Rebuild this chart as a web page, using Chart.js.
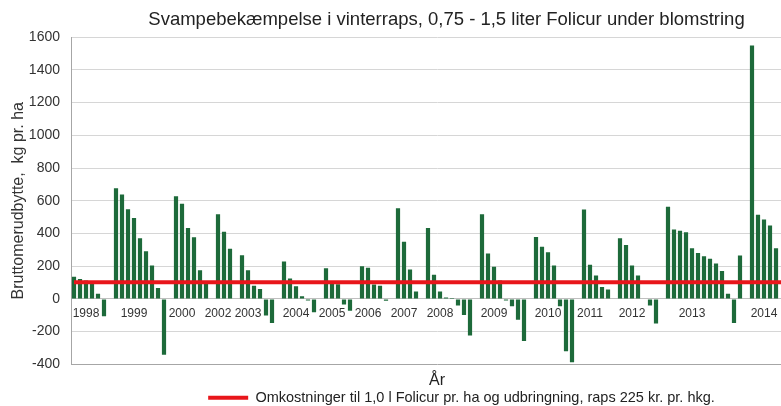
<!DOCTYPE html>
<html lang="da">
<head>
<meta charset="utf-8">
<title>Svampebekæmpelse i vinterraps</title>
<style>
  html, body { margin: 0; padding: 0; background: #fff; overflow: hidden; }
  #chart { display: block; }
</style>
</head>
<body>
<canvas id="chart" width="900" height="415"></canvas>

<script src="https://cdn.jsdelivr.net/npm/chart.js@4"></script>
<script>
// one value per trial, null = empty slot between the seasons
const merudbytte = [
  135, 122, 112, 108, 32, -106, null,
  676, 638, 548, 495, 371, 291, 204, 67, -341, null,
  628, 581, 434, 377, 175, 100, null,
  517, 410, 306, null,
  267, 175, 81, 61, -102, -147, null,
  228, 124, 77, 16, -10, -82, null,
  187, 92, 90, -35, -72, null,
  200, 190, 88, 81, -12, null,
  554, 350, 179, 45, null,
  434, 147, 45, 8, 5, -41, -98, -224, null,
  517, 277, 196, 112, -10, -45, -127, -257, null,
  379, 318, 285, 204, -45, -320, -388, null,
  546, 208, 143, 73, 57, null,
  371, 330, 204, 143, null, -41, -151, null,
  563, 424, 416, 407, 310, 281, 261, 245, 216, 171, 32, -147, 265, null,
  1549, 514, 485, 448, 310,
  null, null, null, null // rest of 2014 is outside the picture
];

const years = ["1998", "1999", "2000", "2002", "2003", "2004", "2005", "2006",
  "2007", "2008", "2009", "2010", "2011", "2012", "2013", "2014"];
// which slot each year label sits under
const yearSlot = [2, 10, 18, 24, 29, 37, 43, 49, 55, 61, 70, 79, 86, 93, 103, 115];

// cost of 1,0 l Folicur + application, in kg raps
const omkostning = 102;

const yTicks = { min: -400, max: 1600, step: 200 };

const labels = merudbytte.map(() => "");
yearSlot.forEach((slot, i) => { labels[slot] = years[i]; });

const GREEN = "#1d6a3a";
const RED = "#e8161b";
const TEXT = "#333";

// the original figure was wider than this crop, so title and legend
// sit right of the centre of what is visible
const shiftBoxes = {
  id: "shiftBoxes",
  afterLayout(chart) {
    chart.titleBlock.left += 45;
    chart.titleBlock.right += 45;
    chart.legend.left += 60;
    chart.legend.right += 60;
  },
};

const config = {
  data: {
    labels,
    datasets: [
      {
        type: "bar",
        label: "Bruttomerudbytte",
        data: merudbytte,
        backgroundColor: GREEN,
        barPercentage: 0.7,
        categoryPercentage: 1,
        order: 2,
      },
      {
        type: "line",
        label: "Omkostninger til 1,0 l Folicur pr. ha og udbringning, raps 225 kr. pr. hkg.",
        data: merudbytte.map(() => omkostning),
        borderColor: RED,
        backgroundColor: RED,
        borderWidth: 4,
        pointRadius: 0,
        pointStyle: "line",
        order: 1,
      },
    ],
  },
  options: {
    responsive: false,
    animation: false,
    layout: { padding: { left: 0, right: 97, top: 0, bottom: 0 } },
    scales: {
      x: {
        type: "category",
        position: { y: 0 },
        offset: true,
        grid: { display: false, drawTicks: false },
        border: { display: true, color: "#bfbfbf", width: 1 },
        ticks: {
          autoSkip: false,
          maxRotation: 0,
          minRotation: 0,
          padding: 8,
          color: TEXT,
          font: { family: "Liberation Sans", size: 12 },
        },
      },
      y: {
        min: yTicks.min,
        max: yTicks.max,
        ticks: {
          stepSize: yTicks.step,
          padding: 11,
          color: TEXT,
          font: { family: "Liberation Sans", size: 14 },
          callback: (v) => String(v),
        },
        grid: {
          drawTicks: false,
          color: (c) => (c.tick && c.tick.value === yTicks.min ? "#a6a6a6" : "#d6d6d6"),
        },
        border: { display: true, color: "#a6a6a6" },
        title: {
          display: true,
          text: "Bruttomerudbytte,  kg pr. ha",
          color: TEXT,
          font: { family: "Liberation Sans", size: 16 },
          padding: { top: 9, bottom: 0 },
        },
        afterFit(scale) {
          scale.width = 71;
        },
      },
    },
    plugins: {
      title: {
        display: true,
        text: "Svampebekæmpelse i vinterraps, 0,75 - 1,5 liter Folicur under blomstring",
        color: "#222",
        font: { family: "Liberation Sans", size: 18.5, weight: "normal" },
        padding: { top: 9, bottom: 6 },
      },
      subtitle: {
        display: true,
        position: "bottom",
        text: "År",
        fullSize: false,
        weight: 500,
        color: "#222",
        font: { family: "Liberation Sans", size: 16, weight: "normal" },
        padding: { top: 7, bottom: 0 },
      },
      legend: {
        position: "bottom",
        labels: {
          filter: (item) => item.datasetIndex === 1,
          usePointStyle: true,
          pointStyleWidth: 40,
          padding: 0,
          color: "#222",
          font: { family: "Liberation Sans", size: 14.5 },
        },
      },
      tooltip: { enabled: false },
    },
  },
  plugins: [shiftBoxes],
};

const chart = new Chart(document.getElementById("chart"), config);
</script>
</body>
</html>
